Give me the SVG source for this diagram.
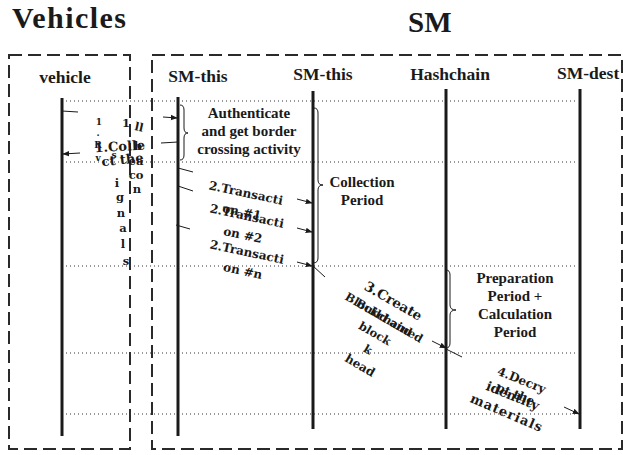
<svg xmlns="http://www.w3.org/2000/svg" width="623" height="455" viewBox="0 0 623 455">
<style>
.title{font-family:"Liberation Serif",serif;font-weight:bold;fill:#1a1a1a}
.hdr{font-family:"Liberation Serif",serif;font-weight:bold;font-size:17.5px;fill:#1a1a1a}
.note{font-family:"Liberation Serif",serif;font-weight:bold;font-size:15px;fill:#1a1a1a;text-anchor:middle}
.lbl{font-family:"DejaVu Serif",serif;font-weight:bold;fill:#1a1a1a;text-anchor:middle}
.box{fill:none;stroke:#2a2a2a;stroke-width:2;stroke-dasharray:13 6}
.life{stroke:#1a1a1a;stroke-width:3;fill:none}
.dot{stroke:#333;stroke-width:1;stroke-dasharray:1 3;fill:none}
.msg{stroke:#1a1a1a;stroke-width:1;fill:none}
.brace{stroke:#1a1a1a;stroke-width:1;fill:none}
</style>
<defs>
<marker id="ah" viewBox="0 0 10 10" refX="9" refY="5" markerWidth="7" markerHeight="7" orient="auto" markerUnits="userSpaceOnUse">
<path d="M0,1 L10,5 L0,9 Z" fill="#1a1a1a"/>
</marker>
</defs>
<rect width="623" height="455" fill="#fff"/>

<g id="titles">
<text class="title" x="12" y="28" font-size="30" textLength="114">Vehicles</text>
<text class="title" x="408" y="32" font-size="29">SM</text>
</g>

<g id="vehicles-box"><rect class="box" x="9" y="55" width="121" height="394"/></g>
<g id="sm-box"><rect class="box" x="152" y="55" width="470" height="394"/></g>

<g id="dotted">
<line class="dot" x1="66" y1="101" x2="578" y2="101"/>
<line class="dot" x1="66" y1="162" x2="578" y2="162"/>
<line class="dot" x1="66" y1="266" x2="578" y2="266"/>
<line class="dot" x1="66" y1="353" x2="578" y2="353"/>
<line class="dot" x1="66" y1="414" x2="578" y2="414"/>
</g>

<g id="vehicle"><text class="hdr" x="65" y="83" text-anchor="middle">vehicle</text><line class="life" x1="62" y1="98" x2="62" y2="436"/></g>
<g id="sm-this-1"><text class="hdr" x="198" y="82" text-anchor="middle">SM-this</text><line class="life" x1="178" y1="97" x2="178" y2="436"/></g>
<g id="sm-this-2"><text class="hdr" x="323" y="80" text-anchor="middle">SM-this</text><line class="life" x1="313" y1="91" x2="313" y2="429"/></g>
<g id="hashchain"><text class="hdr" x="450" y="80" text-anchor="middle">Hashchain</text><line class="life" x1="446" y1="89" x2="446" y2="429"/></g>
<g id="sm-dest"><text class="hdr" x="557" y="79">SM-dest</text><line class="life" x1="580" y1="89" x2="580" y2="429"/></g>

<g id="connectors">
<line class="msg" x1="62" y1="111" x2="78" y2="112"/>
<line class="msg" x1="163" y1="117" x2="177" y2="118" marker-end="url(#ah)"/>
<line class="msg" x1="178" y1="142" x2="161" y2="143"/>
<line class="msg" x1="80" y1="153" x2="63" y2="154" marker-end="url(#ah)"/>
<line class="msg" x1="178" y1="168" x2="193" y2="172"/>
<line class="msg" x1="297" y1="199" x2="312" y2="203" marker-end="url(#ah)"/>
<line class="msg" x1="178" y1="186" x2="193" y2="191"/>
<line class="msg" x1="297" y1="228" x2="312" y2="232" marker-end="url(#ah)"/>
<line class="msg" x1="176" y1="225" x2="190" y2="229"/>
<line class="msg" x1="297" y1="262" x2="312" y2="266" marker-end="url(#ah)"/>
<line class="msg" x1="313" y1="266" x2="325" y2="277"/>
<line class="msg" x1="432" y1="341" x2="446" y2="348" marker-end="url(#ah)"/>
<line class="msg" x1="446" y1="349" x2="462" y2="357"/>
<line class="msg" x1="564" y1="407" x2="579" y2="414" marker-end="url(#ah)"/>
<path class="brace" d="M180,105 Q184,105 184,110 L184,128 Q184,133 188,133 Q184,133 184,138 L184,155 Q184,160 180,160"/>
<path class="brace" d="M314,108 Q318,108 318,113 L318,180 Q318,185 323,185 Q318,185 318,190 L318,258 Q318,263 313,263"/>
<path class="brace" d="M446,270 Q450,270 450,275 L450,305 Q450,310 456,310 Q450,310 450,315 L450,343 Q450,348 446,348"/>
</g>

<g id="note-auth">
<text class="note" x="249" y="118">Authenticate</text>
<text class="note" x="249" y="136">and get border</text>
<text class="note" x="249" y="154">crossing activity</text>
</g>
<g id="note-collection">
<text class="note" x="362" y="187">Collection</text>
<text class="note" x="362" y="205">Period</text>
</g>
<g id="note-prep">
<text class="note" x="515" y="283">Preparation</text>
<text class="note" x="515" y="301">Period +</text>
<text class="note" x="515" y="319">Calculation</text>
<text class="note" x="515" y="337">Period</text>
</g>

<g id="label-1" class="lbl" font-size="11.5">
<text x="99" y="125" font-size="9">1</text>
<text x="98" y="136" font-size="9">.</text>
<text x="98" y="148" font-size="9">R</text>
<text x="98" y="161" font-size="9">v</text>
<text x="126" y="127">1</text>
<text x="139" y="131" transform="rotate(12 139 127)">ll</text>
<text x="138" y="150">b</text>
<text x="136" y="165">ea</text>
<text x="136" y="179">co</text>
<text x="137" y="193">n</text>
<text x="120" y="151" transform="rotate(-3 120 151)" font-size="13">1.Colle</text>
<text x="123" y="164" transform="rotate(-6 123 164)" font-size="13">ct the</text>
<text x="114" y="158" font-size="9">s</text>
<text x="117" y="187">i</text>
<text x="120" y="201">g</text>
<text x="121" y="217">n</text>
<text x="123" y="232">a</text>
<text x="123" y="248">l</text>
<text x="126" y="265">s</text>
</g>

<g id="label-2a" class="lbl" font-size="12">
<text transform="translate(245,197) rotate(12)">2.Transacti</text>
<text transform="translate(241,216) rotate(12)">on #1</text>
</g>
<g id="label-2b" class="lbl" font-size="12">
<text transform="translate(246,220) rotate(12)">2.Transacti</text>
<text transform="translate(242,239) rotate(12)">on #2</text>
</g>
<g id="label-2c" class="lbl" font-size="12">
<text transform="translate(246,256) rotate(12)">2.Transacti</text>
<text transform="translate(242,275) rotate(12)">on #n</text>
</g>

<g id="label-3" class="lbl" font-size="13.5">
<text transform="translate(391,305) rotate(30)">3.Create</text>
<text transform="translate(382,321) rotate(30)" font-size="11.5">Blockchained</text>
<text transform="translate(382,321) rotate(30)" font-size="11.5">Build and</text>
<text transform="translate(373,337) rotate(30)" font-size="11.5">block</text>
<text transform="translate(366,353) rotate(30)" font-size="11.5">k</text>
<text transform="translate(358,369) rotate(30)" font-size="12">head</text>
</g>

<g id="label-4" class="lbl" font-size="12">
<text transform="translate(520,384) rotate(22)">4.Decry</text>
<text transform="translate(514,398) rotate(22)">pt the</text>
<text transform="translate(511,400) rotate(22)" font-size="13">identity</text>
<text transform="translate(505,417) rotate(23)" font-size="13" letter-spacing="1">materials</text>
</g>
</svg>
